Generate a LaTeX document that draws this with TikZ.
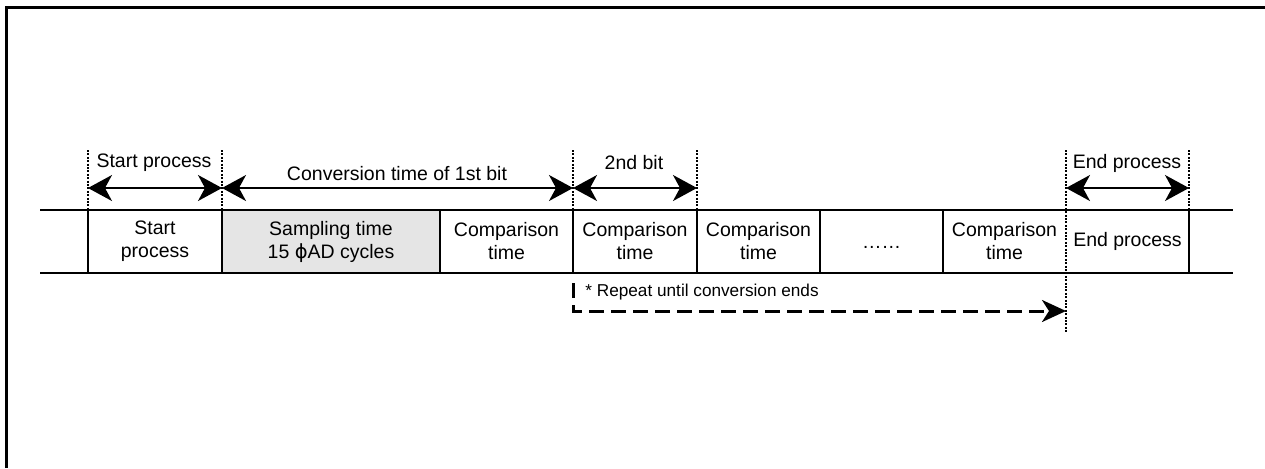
\documentclass[tikz,border=0pt]{standalone}
\usepackage{fontspec}
\setmainfont{Liberation Sans}
\newfontfamily\phifont{DejaVu Sans}
\usetikzlibrary{arrows.meta}
\begin{document}
\begin{tikzpicture}[x=0.5pt,y=-0.5pt,
  lbl/.style={font=\fontsize{9.75}{11.5}\selectfont, align=center, inner sep=0pt},
  note/.style={font=\fontsize{8.6}{10}\selectfont, inner sep=0pt, anchor=west},
  solidln/.style={line width=1pt},
  dotln/.style={line width=1.4pt, dash pattern=on 1pt off 0.7pt},
  dimarr/.style={line width=0.8pt, {Stealth[length=12pt,width=13pt,inset=3.5pt]}-{Stealth[length=12pt,width=13pt,inset=3.5pt]}},
  reparr/.style={line width=1.5pt, dash pattern=on 7.5pt off 3.5pt, -{Stealth[length=12pt,width=11pt,inset=3.5pt]}},
]
\useasboundingbox (0,0) rectangle (1265,468);
% outer frame
\draw[line width=1.5pt] (6.3,468) -- (6.3,7.3) -- (1265,7.3);

% sampling fill
\fill[black!10] (222,210) rectangle (440,273);

% horizontal lines
\coordinate (hl1) at (40,210);
\coordinate (hr1) at (1233,210);
\coordinate (hl2) at (40,273);
\coordinate (hr2) at (1233,273);
\draw[solidln] (hl1) -- (hr1);
\draw[solidln] (hl2) -- (hr2);

% dividers
\foreach \x in {88,222,440,573,697,820,943,1189}
  \draw[solidln] (\x,210) -- (\x,273);

% dotted guide lines
\foreach \x in {88,222,573,697,1189}
  \draw[dotln] (\x,150) -- (\x,210);
\draw[dotln] (1066,150) -- (1066,333);

% dimension arrow endpoints
\coordinate (a) at (88,188);
\coordinate (b) at (222,188);
\coordinate (c) at (573,188);
\coordinate (d) at (697,188);
\coordinate (e) at (1066,188);
\coordinate (f) at (1189,188);
\draw[dimarr] (a) -- (b);
\draw[dimarr] (b) -- (c);
\draw[dimarr] (c) -- (d);
\draw[dimarr] (e) -- (f);

% top labels
\node[lbl] (t1) at (154,163) {Start process};
\node[lbl] (t2) at (397,174) {Conversion time of 1st bit};
\node[lbl] (t3) at (634,163) {2nd bit};
\node[lbl] (t4) at (1127,163) {End process};

% box texts
\node[lbl] (b1) at (155,241.5) {Start\\process};
\node[lbl] (b2) at (331,241.5) {Sampling time\\15 {\phifont ϕ}AD cycles};
\node[lbl] (b3) at (506.5,241.5) {Comparison\\time};
\node[lbl] (b4) at (635,241.5) {Comparison\\time};
\node[lbl] (b5) at (758.5,241.5) {Comparison\\time};
\node[lbl, anchor=base] (b6) at (881.5,248) {……};
\node[lbl] (b7) at (1004.5,241.5) {Comparison\\time};
\node[lbl] (b8) at (1127.5,241.5) {End process};

% repeat arrow
\coordinate (r0) at (573,283);
\coordinate (r1) at (573,311);
\coordinate (r2) at (1066,311);
\draw[reparr] (r0) -- (r1) -- (r2);
\node[note] (rn) at (585,292) {* Repeat until conversion ends};
\end{tikzpicture}
\end{document}
